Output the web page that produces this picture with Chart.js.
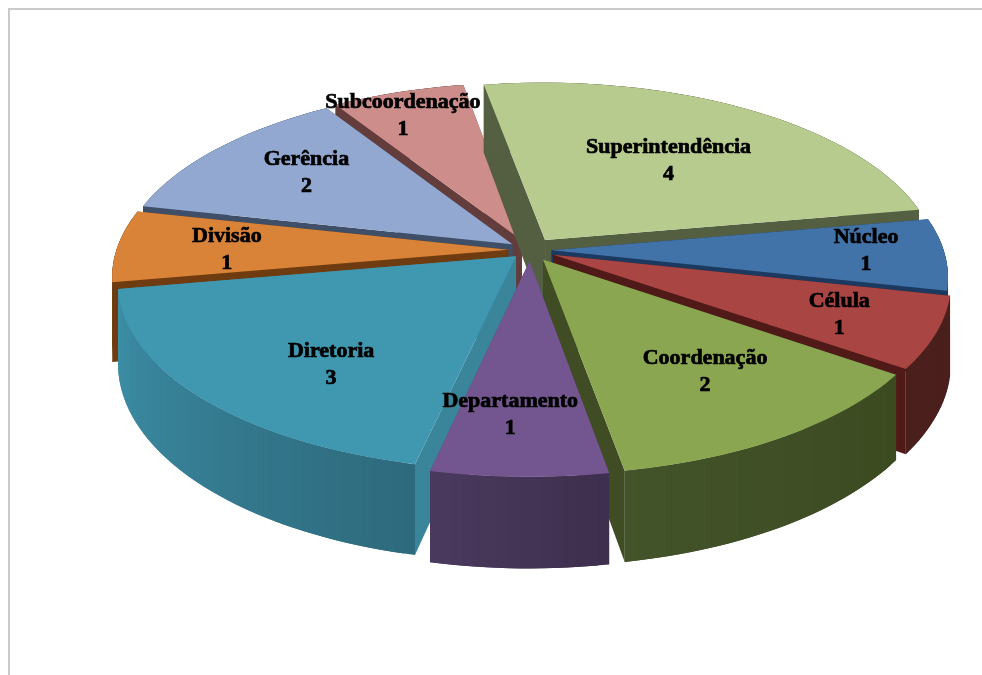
<!DOCTYPE html>
<html>
<head>
<meta charset="utf-8">
<title>Pizza 3D</title>
<script src="https://cdn.jsdelivr.net/npm/chart.js@4/dist/chart.umd.js"></script>
<style>
  html, body { margin: 0; background: #fff; overflow: hidden; }
  #frame { position: absolute; left: 8px; top: 8px; right: 0; bottom: 0; border-top: 2px solid #c9c9c9; border-left: 2px solid #c9c9c9; }
  #wrap { position: absolute; left: 0; top: 0; width: 982px; height: 675px; }
</style>
</head>
<body>
<div id="frame"></div>
<div id="wrap"><canvas id="pie"></canvas></div>
<script>
// data, clockwise from the top
const categories = ['Superintendência', 'Núcleo', 'Célula', 'Coordenação', 'Departamento', 'Diretoria', 'Divisão', 'Gerência', 'Subcoordenação'];
const values = [4, 1, 1, 2, 1, 3, 1, 2, 1];

// colours per slice
const topColors = ['#b7cb8f', '#4172a8', '#a94543', '#8aa650', '#73568f', '#3f97b0', '#d98338', '#93a8d0', '#cd8d8b'];
const faceColors = ['#545f42', '#1c3a60', '#4f1a18', '#3f4c24', '#5b4477', '#3a8599', '#6e3c10', '#3f4f68', '#633c3c'];
const wallFrom = ['#555f42', '#1c3a60', '#4a1f1c', '#3c4a20', '#3e2f4e', '#2e6a7d', '#6e3c10', '#3f4f68', '#633c3c'];
const wallTo = ['#555f42', '#1c3a60', '#4a1f1c', '#43532a', '#4a3a5e', '#3d90a8', '#6e3c10', '#3f4f68', '#633c3c'];

// explosion of each slice (chart.js offset) and label placement
const explode = [22, 18, 21, 20, 20, 16, 18, 18, 19];
const labelRadius = [0.58, 0.79, 0.76, 0.66, 0.74, 0.59, 0.71, 0.735, 0.83];
const labelNudgeX = [3, 4, -1, 9, -12, -6, -4, 15, -14];
const labelNudgeY = [0, -3, 1, 0, 0, 29, 2, 0, 0];

// the tilted view
const view = { cx: 530, cy: 250, rx: 392, ry: 182, depth: 78, persp: 0.14 };

function project(u, v, z) {
    const w = 1 - view.persp * v;
    return [view.cx + view.rx * u / w, view.cy + (view.ry * v + view.depth * z) / w];
}

function mix(a, b, t) {
    const pa = parseInt(a.slice(1), 16), pb = parseInt(b.slice(1), 16);
    const ch = s => Math.round(((pa >> s) & 255) * (1 - t) + ((pb >> s) & 255) * t);
    return `rgb(${ch(16)},${ch(8)},${ch(0)})`;
}

function fillPoly(ctx, pts, color) {
    ctx.beginPath();
    pts.forEach((p, i) => i ? ctx.lineTo(p[0], p[1]) : ctx.moveTo(p[0], p[1]));
    ctx.closePath();
    ctx.fillStyle = color;
    ctx.fill();
}

function drawSlice(ctx, el, i) {
    const mid = (el.startAngle + el.endAngle) / 2;
    const off = el.options.offset / el.outerRadius;
    const ax = off * Math.cos(mid), ay = off * Math.sin(mid);
    const rim = [];
    const steps = Math.ceil((el.endAngle - el.startAngle) / 0.025);
    for (let s = 0; s <= steps; s++) {
        const a = el.startAngle + (el.endAngle - el.startAngle) * s / steps;
        rim.push([ax + Math.cos(a), ay + Math.sin(a)]);
    }
    const first = rim[0], last = rim[steps];
    // straight inner faces
    [first, last].forEach(p => {
        fillPoly(ctx, [project(ax, ay, 0), project(p[0], p[1], 0), project(p[0], p[1], 1), project(ax, ay, 1)], faceColors[i]);
    });
    // curved outer wall, facets overlap by one step so no seams show
    for (let s = 0; s < steps; s++) {
        const p = rim[s], q = rim[Math.min(s + 2, steps)];
        fillPoly(ctx, [project(p[0], p[1], 0), project(q[0], q[1], 0), project(q[0], q[1], 1), project(p[0], p[1], 1)], mix(wallFrom[i], wallTo[i], s / steps));
    }
    // top face
    fillPoly(ctx, [project(ax, ay, 0)].concat(rim.map(p => project(p[0], p[1], 0))), topColors[i]);
}

function drawLabel(ctx, el, i) {
    const mid = (el.startAngle + el.endAngle) / 2;
    const off = el.options.offset / el.outerRadius;
    const r = labelRadius[i] + off;
    const p = project(r * Math.cos(mid), r * Math.sin(mid), 0);
    const x = p[0] + labelNudgeX[i], y = p[1] + labelNudgeY[i];
    ctx.font = 'bold 22px "Liberation Serif"';
    ctx.textAlign = 'center';
    ctx.textBaseline = 'middle';
    ctx.fillStyle = '#000';
    ctx.strokeStyle = '#000';
    ctx.lineWidth = 0.7;
    ctx.fillText(categories[i], x, y - 13);
    ctx.strokeText(categories[i], x, y - 13);
    ctx.fillText(String(values[i]), x, y + 14);
    ctx.strokeText(String(values[i]), x, y + 14);
}

const pie3d = {
    id: 'pie3d',
    beforeDatasetsDraw(chart) {
        const ctx = chart.ctx;
        const arcs = chart.getDatasetMeta(0).data;
        // back slices first so the front ones cover them
        const order = arcs.map((el, i) => i).sort((a, b) => {
            const ma = (arcs[a].startAngle + arcs[a].endAngle) / 2;
            const mb = (arcs[b].startAngle + arcs[b].endAngle) / 2;
            return Math.sin(ma) - Math.sin(mb);
        });
        ctx.save();
        order.forEach(i => drawSlice(ctx, arcs[i], i));
        arcs.forEach((el, i) => drawLabel(ctx, el, i));
        ctx.restore();
        return false;
    }
};

new Chart(document.getElementById('pie'), {
    type: 'pie',
    data: {
        labels: categories,
        datasets: [{ data: values, backgroundColor: topColors, offset: explode, borderWidth: 0 }]
    },
    options: {
        responsive: true,
        maintainAspectRatio: false,
        animation: false,
        rotation: -10,
        plugins: { legend: { display: false }, tooltip: { enabled: false } }
    },
    plugins: [pie3d]
});
</script>
</body>
</html>
